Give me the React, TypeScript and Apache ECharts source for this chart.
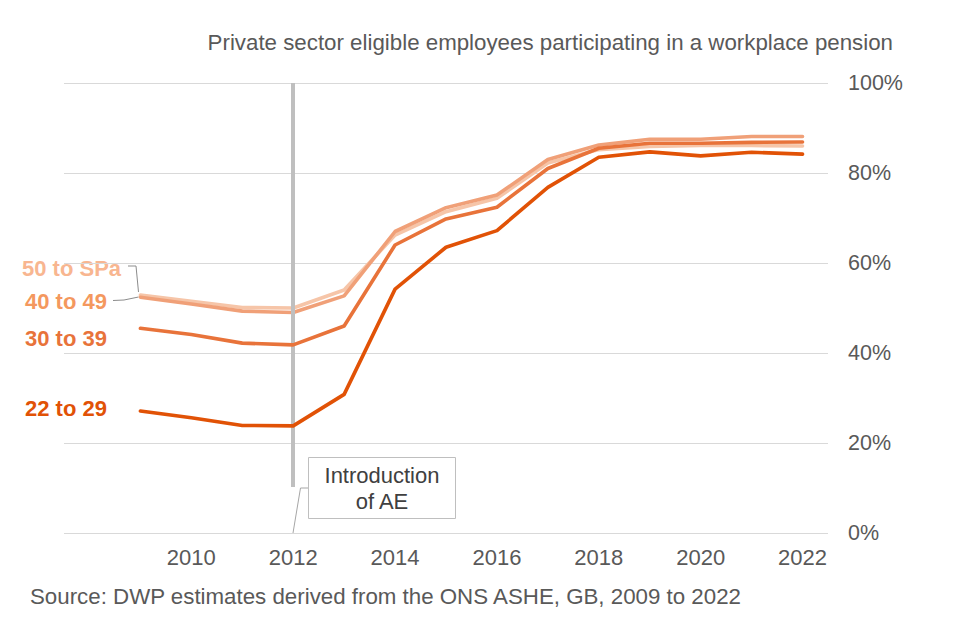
import React, { useEffect, useRef } from "react";
import * as echarts from "echarts";

const years = [2009, 2010, 2011, 2012, 2013, 2014, 2015, 2016, 2017, 2018, 2019, 2020, 2021, 2022];
const age22to29 = [27.1, 25.6, 23.9, 23.8, 30.8, 54.2, 63.5, 67.2, 76.8, 83.5, 84.7, 83.8, 84.6, 84.2];
const age30to39 = [45.5, 44.1, 42.2, 41.8, 46.0, 64.0, 69.8, 72.4, 81.0, 85.5, 86.6, 86.6, 86.8, 86.9];
const age40to49 = [52.4, 50.9, 49.3, 49.0, 52.7, 67.0, 72.3, 75.1, 83.0, 86.2, 87.5, 87.5, 88.1, 88.1];
const age50toSPa = [52.9, 51.5, 50.1, 50.0, 54.0, 66.2, 71.4, 74.4, 82.2, 85.2, 85.9, 86.1, 86.1, 86.0];
const seriesNames = ["50 to SPa", "40 to 49", "30 to 39", "22 to 29"];
const xTickYears = [2010, 2012, 2014, 2016, 2018, 2020, 2022];
const yTicks = [0, 20, 40, 60, 80, 100];
const aeYear = 2012;

const FONT = "'Liberation Sans', Arial, sans-serif";
const GREY = "#595959";

export default function App() {
  const ref = useRef<HTMLDivElement>(null);
  useEffect(() => {
    if (!ref.current) return;
    const chart = echarts.init(ref.current, null, { renderer: "svg" });
    const lineColors = ["#F6C5A8", "#F0A078", "#E8733A", "#E15206"];
    const labelColors = ["#F8B690", "#F4985E", "#E8733A", "#E15206"];
    const datasets = [age50toSPa, age40to49, age30to39, age22to29];
    const series: any[] = datasets.map((d, i) => ({
      name: seriesNames[i],
      type: "line",
      data: years.map((y, j) => [y, d[j]]),
      showSymbol: false,
      symbol: "none",
      lineStyle: { color: lineColors[i], width: 3.6, cap: "round", join: "round" },
      z: 3 + i,
    }));
    series.push({
      name: "ae",
      type: "line",
      data: [],
      z: 2,
      markLine: {
        silent: true,
        symbol: ["none", "none"],
        label: { show: false },
        lineStyle: { color: "#BFBFBF", width: 4, type: "solid" },
        data: [[{ coord: [aeYear, yTicks[yTicks.length - 1]] }, { coord: [aeYear, 10.2] }]],
      },
    });
    const labelStyle = (i: number) => ({
      text: seriesNames[i],
      fill: labelColors[i],
      fontSize: 22,
      fontWeight: "bold",
      fontFamily: FONT,
      verticalAlign: "middle",
    });
    chart.setOption({
      animation: false,
      textStyle: { fontFamily: FONT },
      grid: { left: 64, right: 132, top: 83, bottom: 107, containLabel: false },
      xAxis: {
        type: "value",
        min: 2007.5,
        max: 2022.5,
        interval: 0.5,
        axisLine: { show: false },
        axisTick: { show: false },
        splitLine: { show: false },
        axisLabel: {
          color: GREY,
          fontSize: 22,
          fontFamily: FONT,
          margin: 13,
          formatter: (v: number) => (xTickYears.indexOf(v) >= 0 ? String(v) : ""),
        },
      },
      yAxis: {
        type: "value",
        position: "right",
        min: 0,
        max: 100,
        interval: 20,
        axisLine: { show: false },
        axisTick: { show: false },
        splitLine: { lineStyle: { color: "#D9D9D9", width: 1 } },
        axisLabel: { color: GREY, fontSize: 21.5, fontFamily: FONT, margin: 20, formatter: "{value}%" },
      },
      series,
      graphic: [
        {
          type: "text",
          right: 67,
          top: 31,
          style: { text: "Private sector eligible employees participating in a workplace pension", fill: GREY, fontSize: 22.3, fontFamily: FONT },
        },
        {
          type: "text",
          left: 30,
          top: 585,
          style: { text: "Source: DWP estimates derived from the ONS ASHE, GB, 2009 to 2022", fill: GREY, fontSize: 22.3, fontFamily: FONT },
        },
        { type: "text", x: 22, y: 268, style: labelStyle(0) },
        { type: "text", x: 25, y: 301, style: labelStyle(1) },
        { type: "text", x: 25, y: 338, style: labelStyle(2) },
        { type: "text", x: 25, y: 408, style: labelStyle(3) },
        {
          type: "polyline",
          shape: { points: [[128, 266], [136, 266], [138.5, 292]] },
          style: { stroke: "#8C8C8C", lineWidth: 1, fill: "none" },
        },
        {
          type: "polyline",
          shape: { points: [[113, 300.5], [124, 300], [138.5, 297]] },
          style: { stroke: "#8C8C8C", lineWidth: 1, fill: "none" },
        },
        {
          type: "polyline",
          shape: { points: [[308, 488], [300.5, 488], [293, 533]] },
          style: { stroke: "#A6A6A6", lineWidth: 1, fill: "none" },
        },
        {
          type: "rect",
          shape: { x: 308.5, y: 457.5, width: 147, height: 61 },
          style: { stroke: "#BFBFBF", lineWidth: 1, fill: "#FFFFFF" },
        },
        {
          type: "text",
          x: 382,
          y: 488,
          style: {
            text: "Introduction\nof AE",
            fill: "#404040",
            fontSize: 22,
            fontFamily: FONT,
            align: "center",
            verticalAlign: "middle",
            lineHeight: 26,
          },
        },
      ],
    });
    return () => chart.dispose();
  }, []);
  return <div ref={ref} style={{ position: "fixed", left: 0, top: 0, width: 960, height: 640, background: "#fff" }} />;
}
